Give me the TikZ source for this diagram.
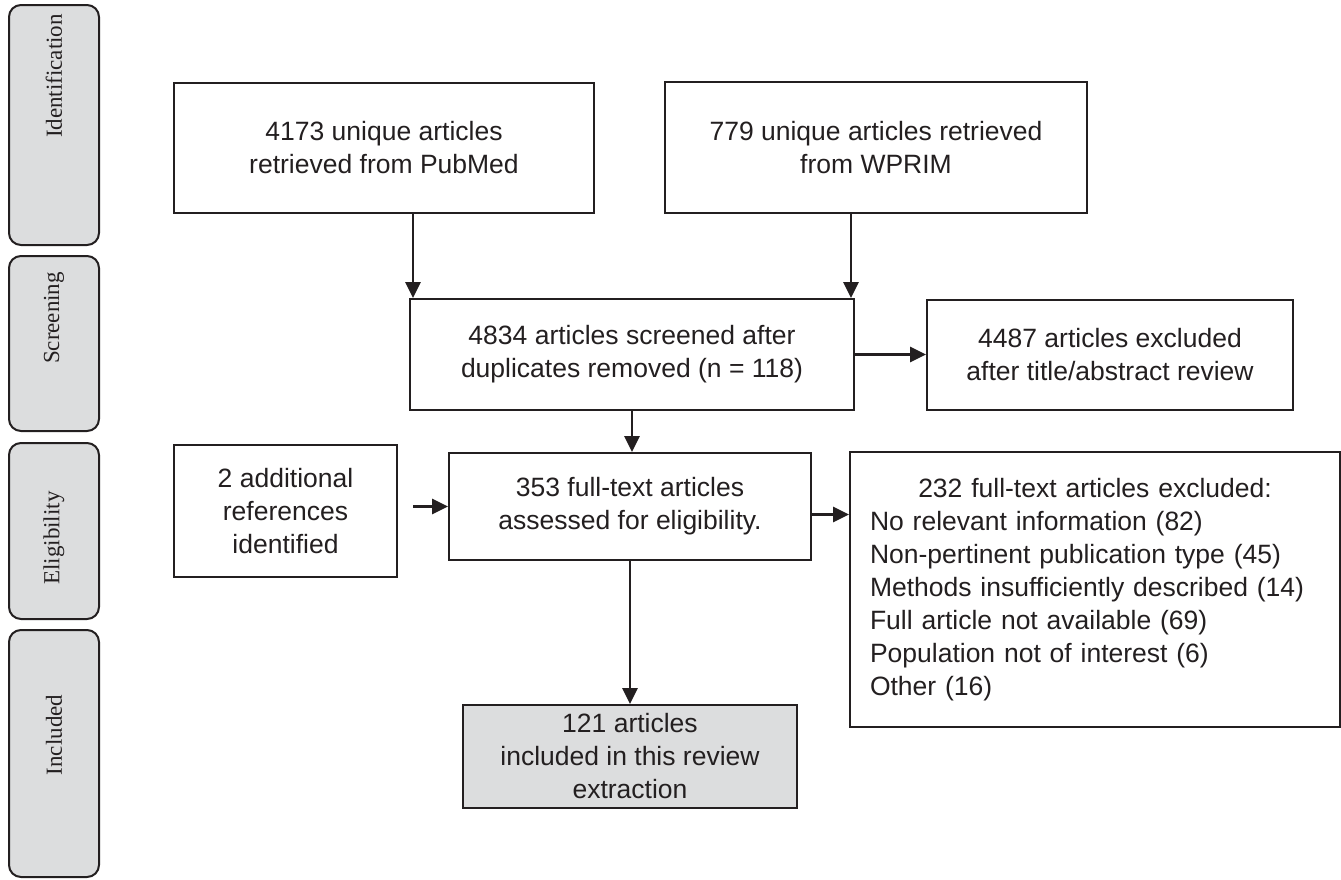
\documentclass[tikz,border=0pt]{standalone}
\usepackage{fontspec}
\setmainfont{Liberation Sans}
\newfontfamily\stagefont{Liberation Serif}
\usetikzlibrary{arrows.meta}
\definecolor{ink}{HTML}{231F20}
\definecolor{panel}{HTML}{DCDDDE}
\begin{document}
\begin{tikzpicture}[x=1pt,y=-1pt,
  box/.style={draw=ink, line width=2pt, fill=white, align=center, inner sep=0pt,
    text=ink, font=\fontsize{26.5}{33}\selectfont},
  stage/.style={draw=ink, line width=2pt, fill=panel, rounded corners=12pt,
    minimum width=90pt, inner sep=0pt},
  stagelabel/.style={rotate=90, text=ink, font=\stagefont\fontsize{23}{27}\selectfont},
  arr/.style={draw=ink, line width=2.8pt, -{Triangle[width=15pt,length=16pt]}}]

\useasboundingbox (0,0) rectangle (1341,879);

% stage panels on the left
\node[stage, minimum height=240pt] (sid)  at (54,125)   {};
\node[stage, minimum height=175pt] (sscr) at (54,343.5) {};
\node[stage, minimum height=176pt] (selg) at (54,531)   {};
\node[stage, minimum height=247pt] (sinc) at (54,753.5) {};
\node[stagelabel] (lid)  at (54,76)  {Identification};
\node[stagelabel] (lscr) at (54,318) {Screening};
\node[stagelabel] (lelg) at (54,538) {Eligibility};
\node[stagelabel] (linc) at (54,735) {Included};

% flow boxes
\node[box, minimum width=420pt, minimum height=130pt] (A) at (384,148)
  {4173 unique articles\\retrieved from PubMed};
\node[box, minimum width=422pt, minimum height=131pt] (B) at (876,147.5)
  {779 unique articles retrieved\\from WPRIM};
\node[box, minimum width=444pt, minimum height=111pt] (C) at (632,354.5)
  {4834 articles screened after\\duplicates removed (n = 118)};
\node[box, minimum width=366pt, minimum height=110pt] (D) at (1110,355)
  {4487 articles excluded\\after title/abstract review};
\node[box, minimum width=223pt, minimum height=132pt] (E) at (285.5,511)
  {2 additional\\references\\identified};
\node[box, minimum width=362pt, minimum height=107pt] (F) at (630,506.5)
  {353 full-text articles\\assessed for eligibility.};
\node[box, fill=panel, minimum width=334pt, minimum height=103pt] (G) at (630,756.5)
  {121 articles\\included in this review\\extraction};
\node[box, align=left, text width=450pt, minimum width=490pt, minimum height=275pt] (H) at (1095,589.5)
  {\makebox[450pt]{232 full-text articles excluded:}\\
   No relevant information (82)\\
   Non-pertinent publication type (45)\\
   Methods insufficiently described (14)\\
   Full article not available (69)\\
   Population not of interest (6)\\
   Other (16)};

% connectors
\draw[arr] ([xshift=4pt]C.north west |- A.south) -- ([xshift=4pt]C.north west);
\draw[arr] ([xshift=-4pt]C.north east |- B.south) -- ([xshift=-4pt]C.north east);
\draw[arr] (C.east) -- (C.east -| D.west);
\draw[arr] (C.south) -- (C.south |- F.north);
\draw[arr] ([xshift=15pt]F.west -| E.east) -- (F.west);
\draw[arr] ([yshift=-8pt]F.east) -- ([yshift=-8pt]F.east -| H.west);
\draw[arr] (F.south) -- (F.south |- G.north);
\end{tikzpicture}
\end{document}
